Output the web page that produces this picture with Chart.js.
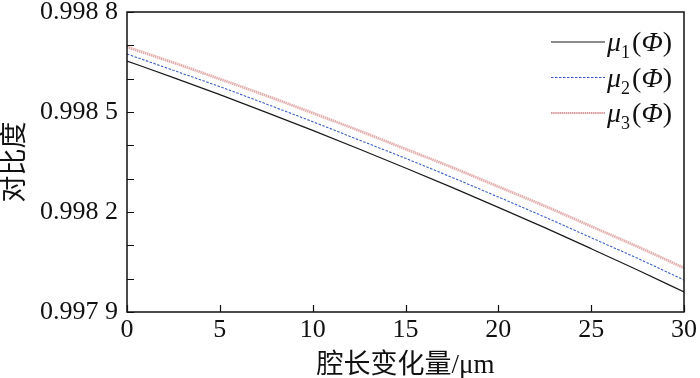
<!DOCTYPE html>
<html>
<head>
<meta charset="utf-8">
<script src="https://cdn.jsdelivr.net/npm/chart.js@4/dist/chart.umd.min.js"></script>
<style>
  html, body { margin: 0; padding: 0; background: #fff; }
  #wrap { width: 700px; height: 378px; }
</style>
</head>
<body>
<div id="wrap"><canvas id="myChart" width="700" height="378"></canvas></div>
<script>
// data
var cavityChange = [0, 2.5, 5, 7.5, 10, 12.5, 15, 17.5, 20, 22.5, 25, 27.5, 30];
var mu1 = [0.998653, 0.998603, 0.998552, 0.998499, 0.998445, 0.998389, 0.998332, 0.998274, 0.998214, 0.998153, 0.998090, 0.998026, 0.997960];
var mu2 = [0.998674, 0.998625, 0.998576, 0.998524, 0.998471, 0.998416, 0.998361, 0.998304, 0.998245, 0.998185, 0.998123, 0.998061, 0.997996];
var mu3 = [0.998695, 0.998648, 0.998599, 0.998549, 0.998497, 0.998444, 0.998389, 0.998334, 0.998276, 0.998218, 0.998157, 0.998096, 0.998032];
var seriesNames = ['μ1(Φ)', 'μ2(Φ)', 'μ3(Φ)'];
var subscripts = ['1', '2', '3'];

var yTickValues = [0.9979, 0.9980, 0.9981, 0.9982, 0.9983, 0.9984, 0.9985, 0.9986, 0.9987, 0.9988];
var yTickLabels = ['0.997 9', '', '', '0.998 2', '', '', '0.998 5', '', '', '0.998 8'];
var xTickValues = [0, 5, 10, 15, 20, 25, 30];

var serif = '"Liberation Serif", "Times New Roman", serif';
var cjk = '"Liberation Serif", "Noto Sans CJK SC", serif';

var toPoints = function(ys) {
    return cavityChange.map(function(x, i) { return {x: x, y: ys[i]}; });
};

var lineStyles = [
    {color: '#1a1a1a', width: 1.2, dash: []},
    {color: '#3b5fc8', width: 1.1, dash: [2.5, 1.5]},
    {color: 'rgba(214,140,140,0.7)', width: 2.8, dash: [1.5, 0.6]}
];

// frame + inward ticks
var frameTicks = {
    id: 'frameTicks',
    afterDraw: function(chart) {
        var ctx = chart.ctx;
        var a = chart.chartArea;
        var xs = chart.scales.x, ys = chart.scales.y;
        ctx.save();
        ctx.strokeStyle = '#111';
        ctx.lineWidth = 1.5;
        ctx.strokeRect(a.left, a.top, a.right - a.left, a.bottom - a.top);
        ctx.lineWidth = 1.2;
        ctx.beginPath();
        yTickValues.forEach(function(v) {
            var py = Math.round(ys.getPixelForValue(v)) + 0.5;
            ctx.moveTo(a.left, py);
            ctx.lineTo(a.left + 7, py);
        });
        xTickValues.forEach(function(v) {
            var px = Math.round(xs.getPixelForValue(v)) + 0.5;
            ctx.moveTo(px, a.bottom);
            ctx.lineTo(px, a.bottom - 7);
        });
        ctx.stroke();
        ctx.restore();
    }
};

// legend with subscripts
var subLegend = {
    id: 'subLegend',
    afterDraw: function(chart) {
        var ctx = chart.ctx;
        ctx.save();
        chart.data.datasets.forEach(function(ds, i) {
            var y = 42 + i * 35.5;
            var st = lineStyles[i];
            ctx.strokeStyle = i == 2 ? 'rgba(190,90,90,0.8)' : st.color;
            ctx.lineWidth = i == 2 ? 1.3 : st.width;
            ctx.setLineDash(st.dash);
            ctx.beginPath();
            ctx.moveTo(551, y);
            ctx.lineTo(605, y);
            ctx.stroke();
            ctx.setLineDash([]);
            ctx.fillStyle = '#111';
            ctx.textBaseline = 'alphabetic';
            var x = 607;
            ctx.font = 'italic 28px ' + serif;
            ctx.fillText('μ', x, y + 9);
            x += ctx.measureText('μ').width;
            ctx.font = '18px ' + serif;
            ctx.fillText(subscripts[i], x, y + 16);
            x += ctx.measureText(subscripts[i]).width + 2;
            ctx.font = '28px ' + serif;
            ctx.fillText('(', x, y + 9);
            x += ctx.measureText('(').width;
            ctx.font = 'italic 28px ' + serif;
            ctx.fillText('Φ', x, y + 9);
            x += ctx.measureText('Φ').width;
            ctx.font = '28px ' + serif;
            ctx.fillText(')', x, y + 9);
        });
        ctx.restore();
    }
};

var ctx = document.getElementById('myChart').getContext('2d');
var myChart = new Chart(ctx, {
    type: 'line',
    data: {
        datasets: [mu1, mu2, mu3].map(function(ys, i) {
            return {
                label: seriesNames[i],
                data: toPoints(ys),
                borderColor: lineStyles[i].color,
                borderWidth: lineStyles[i].width,
                borderDash: lineStyles[i].dash,
                pointRadius: 0,
                cubicInterpolationMode: 'monotone',
                fill: false
            };
        })
    },
    options: {
        responsive: false,
        animation: false,
        layout: {padding: {top: 0, right: 12, left: 0, bottom: 0}},
        plugins: {legend: {display: false}, tooltip: {enabled: false}},
        scales: {
            x: {
                type: 'linear',
                min: 0,
                max: 30,
                afterBuildTicks: function(s) { s.ticks = xTickValues.map(function(v) { return {value: v}; }); },
                afterFit: function(s) { s.height = 66; },
                grid: {display: false, drawTicks: false},
                border: {display: false},
                ticks: {color: '#111', font: {family: serif, size: 26}, padding: 3, maxRotation: 0, autoSkip: false,
                    callback: function(v) { return String(v); }},
                title: {display: true, text: '腔长变化量/μm', color: '#111',
                    font: {family: cjk, size: 27}, padding: {top: 0, bottom: -4}}
            },
            y: {
                type: 'linear',
                min: 0.9979,
                max: 0.9988,
                afterBuildTicks: function(s) { s.ticks = yTickValues.map(function(v) { return {value: v}; }); },
                afterFit: function(s) { s.width = 127; s.paddingTop = 12; },
                grid: {display: false, drawTicks: false},
                border: {display: false},
                ticks: {color: '#111', font: {family: serif, size: 26, lineHeight: 0.9}, padding: 9, autoSkip: false,
                    callback: function(v, i) { return yTickLabels[i]; }},
                title: {display: true, text: '对比度', color: '#111',
                    font: {family: cjk, size: 27}, padding: {top: 0, bottom: 0}}
            }
        }
    },
    plugins: [frameTicks, subLegend]
});
</script>
</body>
</html>
